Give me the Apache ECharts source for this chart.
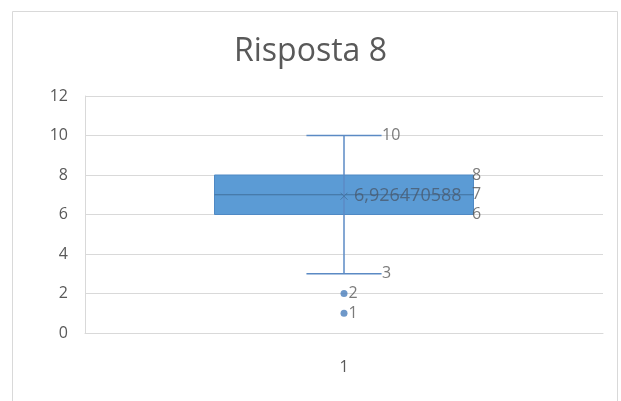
<!DOCTYPE html>
<html>
<head>
<meta charset="utf-8">
<script src="https://cdn.jsdelivr.net/npm/echarts@6/dist/echarts.min.js"></script>
<style>
  html, body { margin: 0; padding: 0; background: #fff; }
  #main { width: 621px; height: 401px; }
</style>
</head>
<body>
<div id="main"></div>
<script>
// dati del grafico
const categories = ['1']
// min, q1, mediana, q3, max
const boxValues = [[3, 6, 7, 8, 10]]
const meanValue = 6.926470588
const meanLabel = '6,926470588'
const outliers = [2, 1]
const yTicks = [0, 2, 4, 6, 8, 10, 12]

const myChart = echarts.init(document.getElementById('main'))
const font = 'Open Sans, Liberation Sans, sans-serif'
const grey = '#595959'

const boxData = boxValues.map((v, i) => [i].concat(v))

const option = {
  backgroundColor: '#fff',
  animation: false,
  title: {
    text: 'Risposta 8',
    left: 'center',
    top: 31,
    textStyle: { color: grey, fontSize: 32, fontWeight: 'normal', fontFamily: font }
  },
  graphic: [{
    type: 'rect',
    shape: { x: 12.5, y: 11.5, width: 605, height: 400 },
    style: { fill: 'none', stroke: '#d9d9d9', lineWidth: 1 },
    silent: true,
    z: -1
  }],
  grid: { left: 85, right: 18, top: 96, bottom: 68 },
  xAxis: {
    type: 'category',
    data: categories,
    axisLine: { lineStyle: { color: '#d9d9d9' } },
    axisTick: { show: false },
    axisLabel: { color: grey, fontSize: 16, fontFamily: font, margin: 26 }
  },
  yAxis: {
    type: 'value',
    min: yTicks[0],
    max: yTicks[yTicks.length - 1],
    interval: 2,
    axisLine: { show: true, lineStyle: { color: '#d9d9d9' } },
    axisTick: { show: false },
    splitLine: { lineStyle: { color: '#d9d9d9' } },
    axisLabel: { color: grey, fontSize: 16, fontFamily: font, margin: 17 }
  },
  series: [
    {
      type: 'custom',
      data: boxData,
      encode: { x: 0, y: [1, 2, 3, 4, 5] },
      renderItem: (params, api) => {
        const x = api.value(0)
        const bw = api.size([1, 0])[0] * 0.5
        const cw = api.size([1, 0])[0] * 0.145
        const pMin = api.coord([x, api.value(1)])
        const pQ1 = api.coord([x, api.value(2)])
        const pMed = api.coord([x, api.value(3)])
        const pQ3 = api.coord([x, api.value(4)])
        const pMax = api.coord([x, api.value(5)])
        const cx = pMin[0]
        const wStyle = { stroke: '#5b8ac4', lineWidth: 1.5 }
        return {
          type: 'group',
          children: [
            { type: 'rect', shape: { x: cx - bw / 2, y: pQ3[1], width: bw, height: pQ1[1] - pQ3[1] },
              style: { fill: '#5b9bd5', stroke: '#4f89c4', lineWidth: 1 } },
            { type: 'line', shape: { x1: cx - bw / 2, y1: pMed[1], x2: cx + bw / 2, y2: pMed[1] },
              style: { stroke: '#41719c', lineWidth: 1 } },
            { type: 'line', shape: { x1: cx, y1: pMax[1], x2: cx, y2: pMin[1] }, style: wStyle },
            { type: 'line', shape: { x1: cx - cw / 2, y1: pMax[1], x2: cx + cw / 2, y2: pMax[1] }, style: wStyle },
            { type: 'line', shape: { x1: cx - cw / 2, y1: pMin[1], x2: cx + cw / 2, y2: pMin[1] }, style: wStyle }
          ]
        }
      },
      z: 2
    },
    {
      // etichette baffi
      type: 'scatter',
      symbolSize: 0,
      data: [[0, boxValues[0][4]], [0, boxValues[0][0]]],
      label: {
        show: true, position: 'right', distance: 38,
        formatter: p => p.value[1],
        color: grey, fontSize: 16, fontFamily: font
      },
      z: 3
    },
    {
      // etichette scatola
      type: 'scatter',
      symbolSize: 0,
      data: [[0, boxValues[0][3]], [0, boxValues[0][2]], [0, boxValues[0][1]]],
      label: {
        show: true, position: 'right', distance: 128,
        formatter: p => p.value[1],
        color: grey, fontSize: 16, fontFamily: font
      },
      z: 3
    },
    {
      // media
      type: 'scatter',
      symbol: 'path://M0,0L10,10M10,0L0,10',
      symbolSize: 7,
      data: [[0, meanValue]],
      itemStyle: { color: 'none', borderColor: '#41719c', borderWidth: 1 },
      label: {
        show: true, position: 'right', distance: 4,
        formatter: meanLabel,
        color: '#4a5a6e', fontSize: 18, fontFamily: font
      },
      z: 4
    },
    {
      // valori anomali
      type: 'scatter',
      symbolSize: 7,
      data: outliers.map(v => [0, v]),
      itemStyle: { color: '#4a7ebb' },
      label: {
        show: true, position: 'right', distance: 1,
        formatter: p => p.value[1],
        color: grey, fontSize: 16, fontFamily: font
      },
      z: 4
    }
  ]
}

option && myChart.setOption(option)
window.addEventListener('resize', () => {
  myChart.resize()
})
</script>
</body>
</html>
